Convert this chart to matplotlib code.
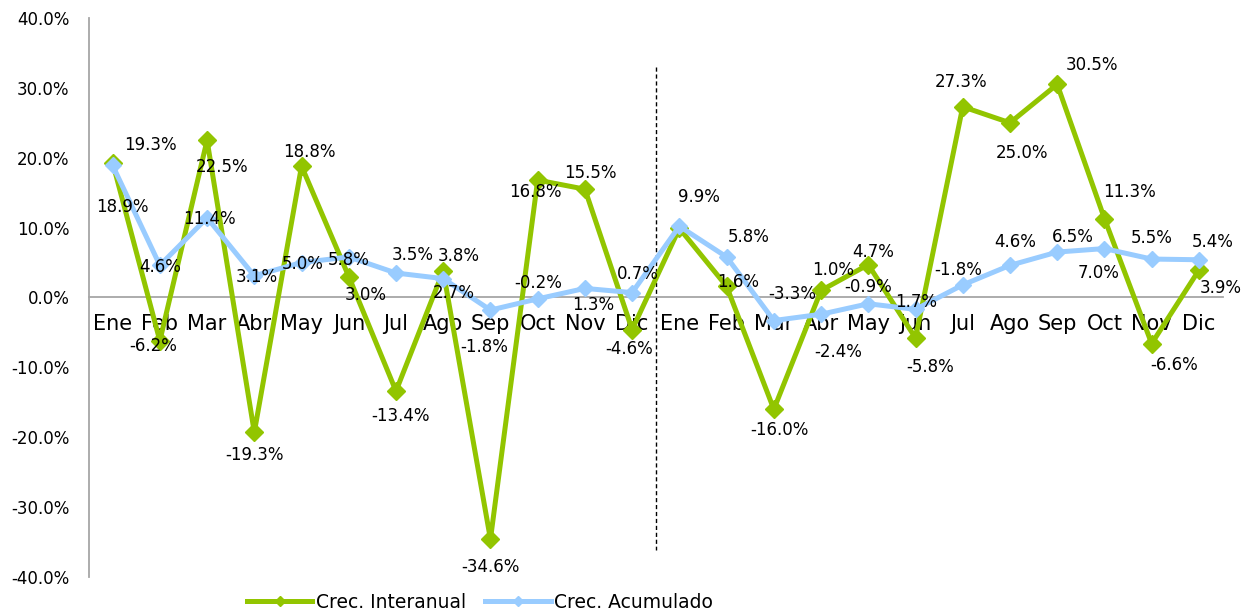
import numpy as np
import matplotlib
matplotlib.use("Agg")
from matplotlib import pyplot as plt

meses = ["Ene", "Feb", "Mar", "Abr", "May", "Jun", "Jul", "Ago", "Sep", "Oct", "Nov", "Dic"]
categorias = meses + meses

interanual = [19.3, -6.2, 22.5, -19.3, 18.8, 3.0, -13.4, 3.8, -34.6, 16.8, 15.5, -4.6,
              9.9, 1.6, -16.0, 1.0, 4.7, -5.8, 27.3, 25.0, 30.5, 11.3, -6.6, 3.9]
acumulado = [18.9, 4.6, 11.4, 3.1, 5.0, 5.8, 3.5, 2.7, -1.8, -0.2, 1.3, 0.7,
             10.2, 5.8, -3.3, -2.4, -0.9, -1.7, 1.8, 4.6, 6.5, 7.0, 5.5, 5.4]
# texto de etiquetas tal como aparece en el original
acumulado_txt = ["18.9%", "4.6%", "11.4%", "3.1%", "5.0%", "5.8%", "3.5%", "2.7%", "-1.8%", "-0.2%", "1.3%", "0.7%",
                 "", "5.8%", "-3.3%", "-2.4%", "-0.9%", "1.7%", "-1.8%", "4.6%", "6.5%", "7.0%", "5.5%", "5.4%"]

# desplazamientos de etiquetas (pixeles, y hacia abajo)
off_inter = [(38, -18), (-7, 5), (15, 27), (0, 23), (8, -14), (17, 18), (5, 25), (15, -15), (0, 28), (-2, 12), (5, -16), (-3, 19),
             (20, -31), (12, -4), (6, 21), (12, -20), (5, -13), (15, 29), (-2, -25), (12, 30), (35, -19), (25, -27), (22, 21), (22, 18)]
off_acum = [(10, 42), (0, 2), (2, 1), (2, 1), (1, 1), (0, 3), (17, -18), (11, 14), (-6, 37), (1, -16), (8, 17), (6, -19),
            (0, 0), (22, -20), (18, -27), (17, 38), (0, -17), (1, -7), (-5, -15), (5, -23), (16, -15), (-6, 24), (0, -21), (14, -18)]

verde = "#92c500"
azul = "#99ccff"

plt.rcParams['font.family'] = ['DejaVu Sans']

fig = plt.figure(figsize=(12.5, 6.14), dpi=100)
ax = fig.add_axes([0.0712, 0.0603, 0.9068, 0.9104])

ax.spines["top"].set_visible(False)
ax.spines["right"].set_visible(False)
ax.spines["bottom"].set_position(("data", 0))
ax.spines["bottom"].set_color("#a6a6a6")
ax.spines["left"].set_color("#a6a6a6")
ax.spines["bottom"].set_linewidth(1.3)
ax.spines["left"].set_linewidth(1.3)

x = np.arange(len(categorias))
ax.plot(x, interanual, color=verde, lw=3.6, marker="D", ms=9, label="Crec. Interanual", zorder=3)
ax.plot(x, acumulado, color=azul, lw=3.6, marker="D", ms=8, label="Crec. Acumulado", zorder=4)

for i in range(len(x)):
    dx, dy = off_inter[i]
    ax.annotate(f"{interanual[i]:.1f}%", (x[i], interanual[i]), xytext=(dx, -dy),
                textcoords="offset pixels", ha="center", va="center", fontsize=12, zorder=5)
    if acumulado_txt[i]:
        dx, dy = off_acum[i]
        ax.annotate(acumulado_txt[i], (x[i], acumulado[i]), xytext=(dx, -dy),
                    textcoords="offset pixels", ha="center", va="center", fontsize=12, zorder=5)

ax.plot([11.5, 11.5], [33.0, -36.2], color="black", lw=1, ls=(0, (3, 2)))

ax.set_xlim(-0.5, 23.5)
ax.set_ylim(-40, 40)
ax.set_yticks(np.arange(-40, 41, 10))
ax.set_yticklabels([f"{v:.1f}%" for v in np.arange(-40, 41, 10)], fontsize=12)
ax.set_xticks(x)
ax.set_xticklabels(categorias, fontsize=15)
ax.tick_params(axis="both", length=0)
ax.tick_params(axis="y", pad=14)
ax.tick_params(axis="x", pad=12)

leg = ax.legend(loc="center", bbox_to_anchor=(0.345, -0.045), ncol=2, frameon=False, fontsize=13.5,
                handlelength=3.5, columnspacing=1.0, handletextpad=0.2, markerscale=0.6)

fig.savefig("out.png", dpi=100)
